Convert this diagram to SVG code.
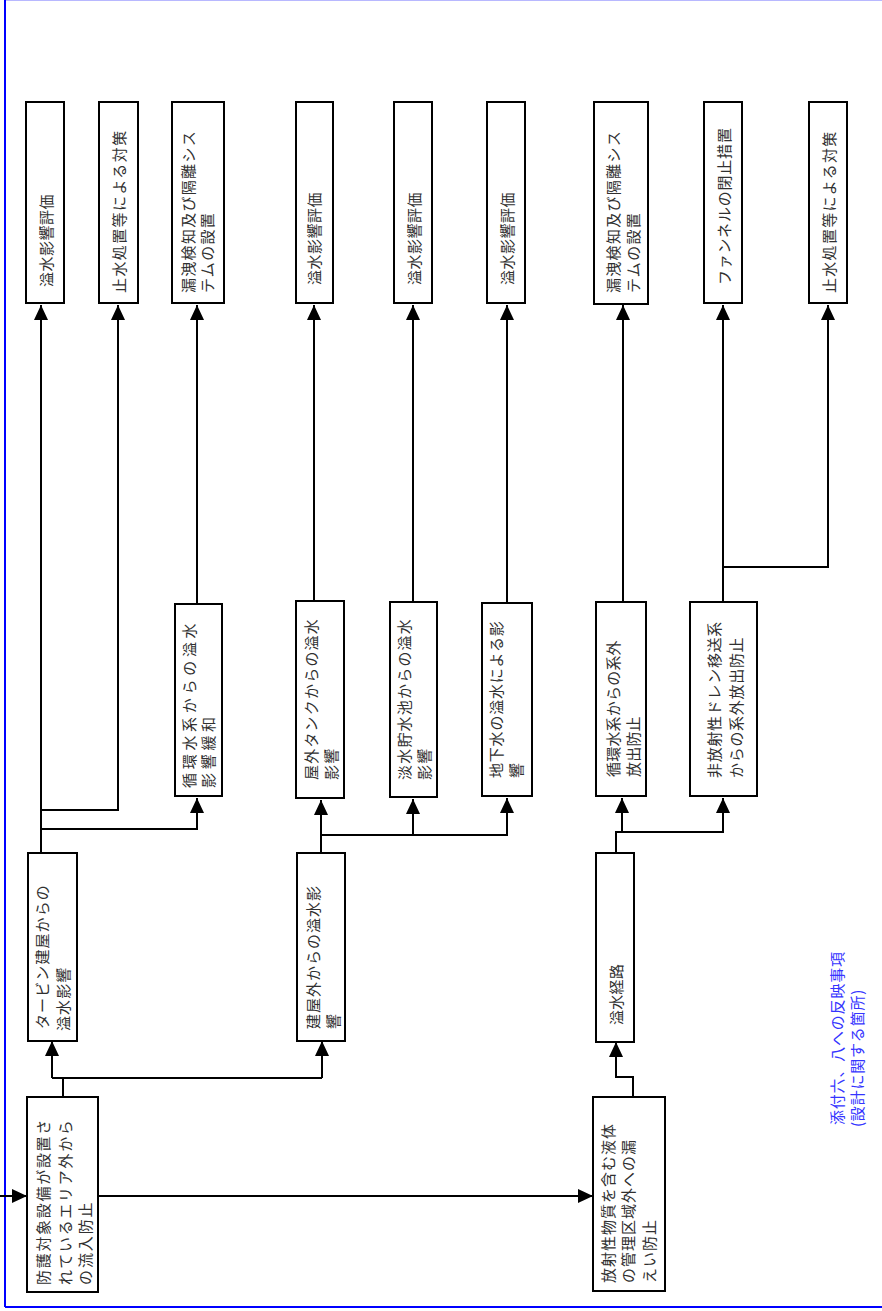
<svg xmlns="http://www.w3.org/2000/svg" width="882" height="1311" viewBox="0 0 882 1311">
<style>
.box{fill:#fff;stroke:#000;stroke-width:2}
.t{font-family:"Noto Sans CJK JP","Noto Sans CJK SC",sans-serif;font-size:15px;fill:#303030;dominant-baseline:central;letter-spacing:1.2px}
.c{fill:none;stroke:#000;stroke-width:2}
.blue{fill:#3434ff;letter-spacing:0.8px}
</style>
<defs>
<marker id="ah" viewBox="0 0 15 14" refX="15" refY="7" markerWidth="15" markerHeight="14" markerUnits="userSpaceOnUse" orient="auto">
<path d="M0,0 L15,7 L0,14 z" fill="#000"/>
</marker>
</defs>
<rect width="882" height="1311" fill="#fff"/>
<g id="frame">
<line x1="5" y1="0.5" x2="882" y2="0.5" stroke="#b8b8ff" stroke-width="1"/>
<line x1="5" y1="0" x2="5" y2="1307" stroke="#0000ff" stroke-width="2"/>
<line x1="5" y1="1307" x2="882" y2="1307" stroke="#0000ff" stroke-width="2"/>
</g>
<g id="connectors">
<path class="c" d="M0,1196 H27" marker-end="url(#ah)"/>
<path class="c" d="M98,1196 H593" marker-end="url(#ah)"/>
<path class="c" d="M63,1097 V1078"/>
<path class="c" d="M52,1078 H322"/>
<path class="c" d="M52,1078 V1041" marker-end="url(#ah)"/>
<path class="c" d="M322,1078 V1041" marker-end="url(#ah)"/>
<path class="c" d="M41,853 V305" marker-end="url(#ah)"/>
<path class="c" d="M41,810 H118 V305" marker-end="url(#ah)"/>
<path class="c" d="M41,829 H197 V798" marker-end="url(#ah)"/>
<path class="c" d="M197,604 V305" marker-end="url(#ah)"/>
<path class="c" d="M321,853 V835 H507 V798" marker-end="url(#ah)"/>
<path class="c" d="M321,835 V800" marker-end="url(#ah)"/>
<path class="c" d="M413,835 V799" marker-end="url(#ah)"/>
<path class="c" d="M314,601 V305" marker-end="url(#ah)"/>
<path class="c" d="M413,602 V305" marker-end="url(#ah)"/>
<path class="c" d="M507,603 V305" marker-end="url(#ah)"/>
<path class="c" d="M633,1097 V1077 H616 V1042" marker-end="url(#ah)"/>
<path class="c" d="M616,853 V832 H723 V798" marker-end="url(#ah)"/>
<path class="c" d="M622,832 V798" marker-end="url(#ah)"/>
<path class="c" d="M623,602 V305" marker-end="url(#ah)"/>
<path class="c" d="M723,602 V305" marker-end="url(#ah)"/>
<path class="c" d="M723,567 H828 V305" marker-end="url(#ah)"/>
</g>
<g id="n_inflow">
<rect class="box" x="27" y="1097" width="71" height="195"/>
<text class="t" style="letter-spacing:1.7px" transform="translate(42,1285) rotate(-90)">防護対象設備が設置さ</text>
<text class="t" style="letter-spacing:1.7px" transform="translate(64,1285) rotate(-90)">れているエリア外から</text>
<text class="t" style="letter-spacing:1.9px" transform="translate(84,1285) rotate(-90)">の流入防止</text>
</g>
<g id="n_turbine">
<rect class="box" x="28" y="853" width="49" height="188"/>
<text class="t" style="letter-spacing:1.1px" transform="translate(41,1029) rotate(-90)">タービン建屋からの</text>
<text class="t" style="letter-spacing:1.1px" transform="translate(62,1031) rotate(-90)">溢水影響</text>
</g>
<g id="n_outside">
<rect class="box" x="297" y="853" width="48" height="188"/>
<text class="t" style="letter-spacing:1px" transform="translate(312,1029) rotate(-90)">建屋外からの溢水影</text>
<text class="t" style="letter-spacing:1px" transform="translate(332,1029) rotate(-90)">響</text>
</g>
<g id="n_route">
<rect class="box" x="596" y="853" width="38" height="189"/>
<text class="t" style="letter-spacing:0.3px" transform="translate(615,1025) rotate(-90)">溢水経路</text>
</g>
<g id="n_leak">
<rect class="box" x="593" y="1097" width="72" height="194"/>
<text class="t" style="letter-spacing:1px" transform="translate(607,1283) rotate(-90)">放射性物質を含む液体</text>
<text class="t" style="letter-spacing:1px" transform="translate(627,1283) rotate(-90)">の管理区域外への漏</text>
<text class="t" style="letter-spacing:1px" transform="translate(648,1283) rotate(-90)">えい防止</text>
</g>
<g id="n_circ_mit">
<rect class="box" x="175" y="604" width="47" height="192"/>
<text class="t" style="letter-spacing:3.7px" transform="translate(188,788) rotate(-90)">循環水系からの溢水</text>
<text class="t" style="letter-spacing:3.7px" transform="translate(207,788) rotate(-90)">影響緩和</text>
</g>
<g id="n_tank">
<rect class="box" x="296" y="601" width="48" height="197"/>
<text class="t" style="letter-spacing:1.2px" transform="translate(310,780) rotate(-90)">屋外タンクからの溢水</text>
<text class="t" style="letter-spacing:1.2px" transform="translate(330,780) rotate(-90)">影響</text>
</g>
<g id="n_pond">
<rect class="box" x="390" y="602" width="47" height="195"/>
<text class="t" style="letter-spacing:1.2px" transform="translate(403,780) rotate(-90)">淡水貯水池からの溢水</text>
<text class="t" style="letter-spacing:1.2px" transform="translate(423,780) rotate(-90)">影響</text>
</g>
<g id="n_ground">
<rect class="box" x="482" y="603" width="50" height="193"/>
<text class="t" style="letter-spacing:0.8px" transform="translate(495,778) rotate(-90)">地下水の溢水による影</text>
<text class="t" style="letter-spacing:0.8px" transform="translate(515,778) rotate(-90)">響</text>
</g>
<g id="n_circ_out">
<rect class="box" x="596" y="602" width="50" height="194"/>
<text class="t" style="letter-spacing:0.2px" transform="translate(612,777) rotate(-90)">循環水系からの系外</text>
<text class="t" style="letter-spacing:0.2px" transform="translate(632,777) rotate(-90)">放出防止</text>
</g>
<g id="n_drain">
<rect class="box" x="690" y="602" width="67" height="194"/>
<text class="t" style="letter-spacing:0.7px" transform="translate(713,778) rotate(-90)">非放射性ドレン移送系</text>
<text class="t" style="letter-spacing:0.7px" transform="translate(735,778) rotate(-90)">からの系外放出防止</text>
</g>
<g id="n_eval1">
<rect class="box" x="26" y="102" width="38" height="201"/>
<text class="t" style="letter-spacing:0.5px" transform="translate(45,287) rotate(-90)">溢水影響評価</text>
</g>
<g id="n_stop1">
<rect class="box" x="99" y="102" width="39" height="201"/>
<text class="t" style="letter-spacing:1.4px" transform="translate(118,293) rotate(-90)">止水処置等による対策</text>
</g>
<g id="n_detect1">
<rect class="box" x="172" y="102" width="52" height="201"/>
<text class="t" style="letter-spacing:1.3px" transform="translate(187,293) rotate(-90)">漏洩検知及び隔離シス</text>
<text class="t" style="letter-spacing:1.3px" transform="translate(206,293) rotate(-90)">テムの設置</text>
</g>
<g id="n_eval2">
<rect class="box" x="296" y="102" width="37" height="201"/>
<text class="t" style="letter-spacing:0.5px" transform="translate(313,285) rotate(-90)">溢水影響評価</text>
</g>
<g id="n_eval3">
<rect class="box" x="394" y="102" width="38" height="201"/>
<text class="t" style="letter-spacing:0.5px" transform="translate(413,285) rotate(-90)">溢水影響評価</text>
</g>
<g id="n_eval4">
<rect class="box" x="487" y="102" width="38" height="201"/>
<text class="t" style="letter-spacing:0.5px" transform="translate(506,285) rotate(-90)">溢水影響評価</text>
</g>
<g id="n_detect2">
<rect class="box" x="594" y="102" width="54" height="202"/>
<text class="t" style="letter-spacing:1.3px" transform="translate(612,293) rotate(-90)">漏洩検知及び隔離シス</text>
<text class="t" style="letter-spacing:1.3px" transform="translate(632,293) rotate(-90)">テムの設置</text>
</g>
<g id="n_funnel">
<rect class="box" x="704" y="102" width="38" height="201"/>
<text class="t" style="letter-spacing:0.8px" transform="translate(723,285) rotate(-90)">ファンネルの閉止措置</text>
</g>
<g id="n_stop2">
<rect class="box" x="809" y="102" width="38" height="201"/>
<text class="t" style="letter-spacing:1.3px" transform="translate(828,293) rotate(-90)">止水処置等による対策</text>
</g>
<g id="note">
<text class="t blue" transform="translate(836,1125) rotate(-90)">添付六、八への反映事項</text>
<text class="t blue" transform="translate(856,1127) rotate(-90)">(設計に関する箇所)</text>
</g>
</svg>
